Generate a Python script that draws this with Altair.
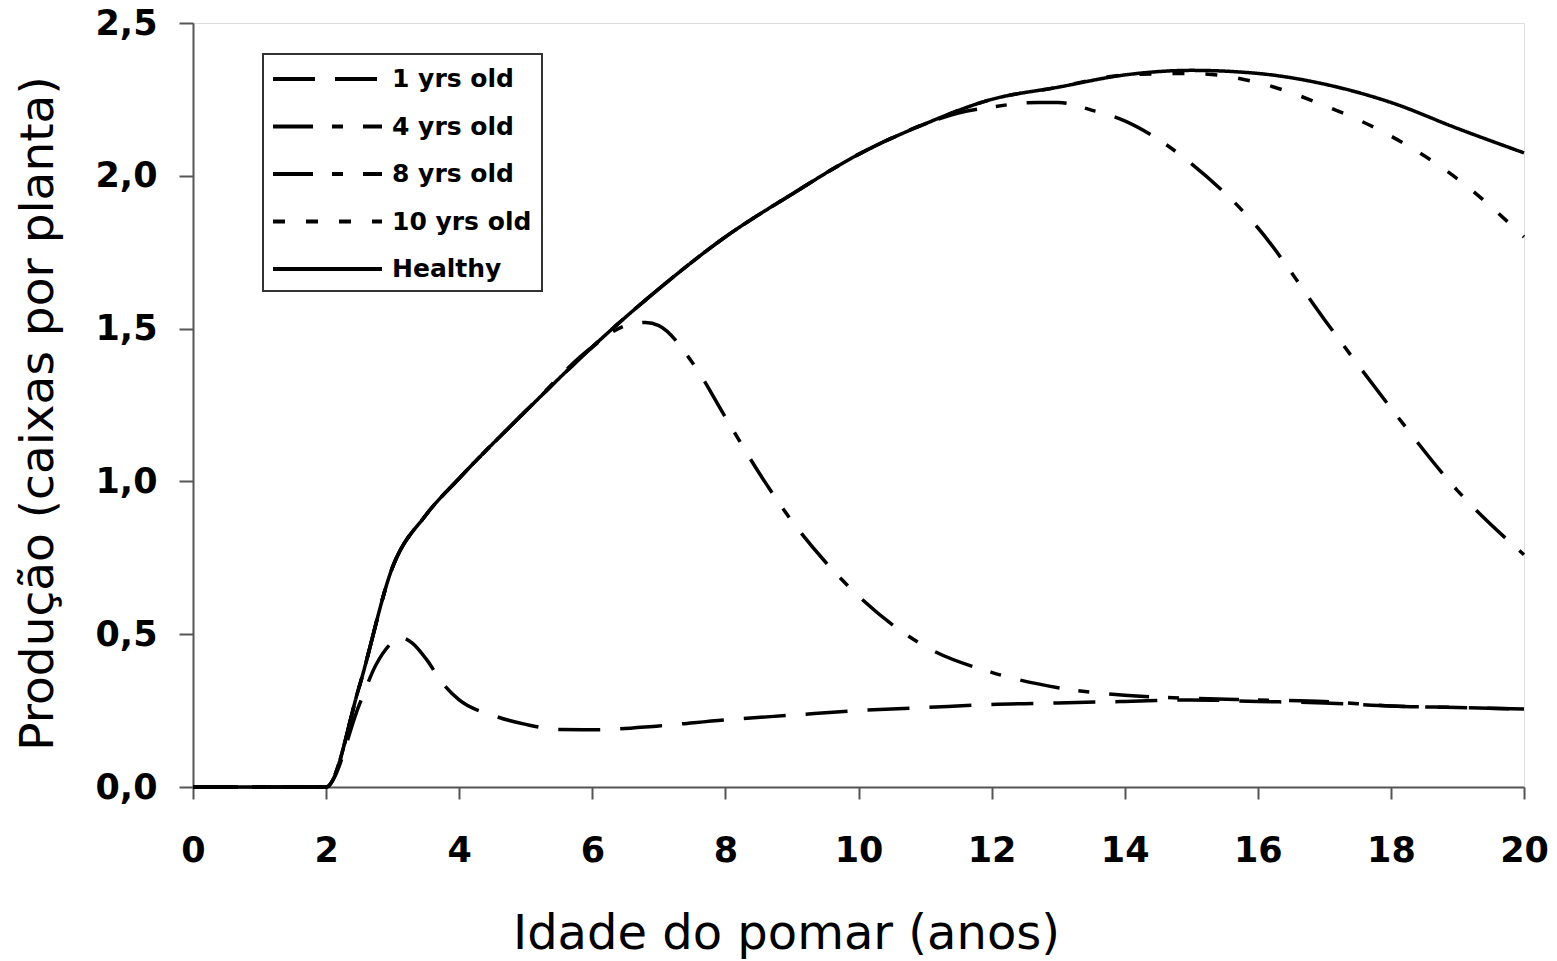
import altair as alt
import pandas as pd

# ---- data ----
series_names = ["1 yrs old", "4 yrs old", "8 yrs old", "10 yrs old", "Healthy"]

healthy_x = [0, 1, 2, 2.5, 3, 3.5, 4, 5, 6, 7, 8, 9, 10, 11, 12, 13, 14, 15, 16, 17, 18, 19, 20]
healthy_y = [0, 0, 0, 0.33, 0.72, 0.89, 1.01, 1.23, 1.44, 1.63, 1.80, 1.94, 2.07, 2.17, 2.25, 2.29,
             2.33, 2.345, 2.335, 2.30, 2.24, 2.155, 2.075]

y1_x = [0, 1, 2, 2.5, 2.75, 3, 3.1, 3.3, 3.5, 3.75, 4, 4.5, 5, 5.5, 6, 7, 8, 9, 10, 11, 12, 13, 14,
        15, 16, 17, 18, 19, 20]
y1_y = [0, 0, 0, 0.27, 0.40, 0.475, 0.49, 0.47, 0.42, 0.34, 0.285, 0.235, 0.205, 0.188, 0.187, 0.20,
        0.22, 0.235, 0.25, 0.26, 0.27, 0.275, 0.28, 0.285, 0.28, 0.275, 0.265, 0.26, 0.255]

y4_x = [0, 1, 2, 2.5, 3, 3.5, 4, 5, 6, 6.5, 6.8, 7, 7.5, 8, 8.5, 9, 9.5, 10, 11, 12, 13, 14, 15, 16,
        17, 18, 19, 20]
y4_y = [0, 0, 0, 0.33, 0.72, 0.89, 1.01, 1.23, 1.44, 1.51, 1.52, 1.51, 1.39, 1.21, 1.03, 0.87, 0.737,
        0.625, 0.46, 0.375, 0.325, 0.30, 0.29, 0.285, 0.28, 0.265, 0.26, 0.255]

y8_x = [0, 1, 2, 2.5, 3, 3.5, 4, 5, 6, 7, 8, 9, 10, 11, 11.5, 12, 12.7, 13, 13.5, 14, 14.5, 15, 16,
        17, 18, 19, 20]
y8_y = [0, 0, 0, 0.33, 0.72, 0.89, 1.01, 1.23, 1.44, 1.63, 1.80, 1.94, 2.07, 2.17, 2.205, 2.225, 2.24,
        2.24, 2.215, 2.18, 2.12, 2.04, 1.83, 1.53, 1.24, 0.97, 0.76]

y10_x = [0, 1, 2, 2.5, 3, 3.5, 4, 5, 6, 7, 8, 9, 10, 11, 12, 13, 14, 15, 16, 17, 18, 19, 20]
y10_y = [0, 0, 0, 0.33, 0.72, 0.89, 1.01, 1.23, 1.44, 1.63, 1.80, 1.94, 2.07, 2.17, 2.25, 2.29,
         2.33, 2.335, 2.305, 2.23, 2.13, 1.99, 1.80]

x_ticks = [0, 2, 4, 6, 8, 10, 12, 14, 16, 18, 20]
y_ticks = [0, 0.5, 1.0, 1.5, 2.0, 2.5]

dash_range = [[42, 20], [40, 19, 11, 20], [40, 19, 11, 20], [12, 21], [1, 0]]

# ---- build long table ----
rows = []
for name, xs, ys in [
    ("1 yrs old", y1_x, y1_y),
    ("4 yrs old", y4_x, y4_y),
    ("8 yrs old", y8_x, y8_y),
    ("10 yrs old", y10_x, y10_y),
    ("Healthy", healthy_x, healthy_y),
]:
    for xv, yv in zip(xs, ys):
        rows.append({"serie": name, "idade": xv, "prod": yv})
df = pd.DataFrame(rows)

lines = (
    alt.Chart(df)
    .mark_line(interpolate="monotone", strokeWidth=3.5, color="black")
    .encode(
        x=alt.X(
            "idade:Q",
            scale=alt.Scale(domain=[0, 20], nice=False),
            axis=alt.Axis(
                values=x_ticks,
                title="Idade do pomar (anos)",
                titleFont="DejaVu Sans",
                titleFontSize=48,
                titleFontWeight="normal",
                titleColor="black",
                titleX=593,
                titleY=161,
                titleAlign="center",
                titleBaseline="alphabetic",
                labelFont="DejaVu Sans",
                labelFontWeight="bold",
                labelFontSize=35,
                labelColor="black",
                labelPadding=34,
                labelFlush=False,
                tickSize=12,
                tickWidth=2,
                tickColor="#555555",
                domainColor="#555555",
                domainWidth=2,
                grid=False,
            ),
        ),
        y=alt.Y(
            "prod:Q",
            scale=alt.Scale(domain=[0, 2.5], nice=False),
            axis=alt.Axis(
                values=y_ticks,
                labelExpr="replace(format(datum.value, '.1f'), '.', ',')",
                title="Produção (caixas por planta)",
                titleFont="DejaVu Sans",
                titleFontSize=47,
                titleFontWeight="normal",
                titleColor="black",
                titleX=-141,
                titleY=390,
                titleAngle=270,
                titleAlign="center",
                titleBaseline="alphabetic",
                labelFont="DejaVu Sans",
                labelFontWeight="bold",
                labelFontSize=35,
                labelColor="black",
                labelPadding=22,
                labelFlush=False,
                tickSize=14,
                tickWidth=2,
                tickColor="#555555",
                domainColor="#555555",
                domainWidth=2,
                grid=False,
            ),
        ),
        strokeDash=alt.StrokeDash(
            "serie:N",
            scale=alt.Scale(domain=series_names, range=dash_range),
            sort=series_names,
            legend=None,
        ),
    )
)

# ---- hand-drawn legend box (layout only) ----
box_left, box_right, box_top, box_bottom = 70, 349, 31, 268
sym_left, sym_right, label_x = 80, 189, 199
row0, row_step = 56, 47.5

one = pd.DataFrame({"k": [0]})
legend_layers = [
    alt.Chart(one)
    .mark_rect(fill="white", stroke="#333333", strokeWidth=2)
    .encode(
        x=alt.value(box_left), x2=alt.value(box_right),
        y=alt.value(box_top), y2=alt.value(box_bottom),
    )
]
for i, name in enumerate(series_names):
    yy = row0 + i * row_step
    legend_layers.append(
        alt.Chart(one)
        .mark_rule(color="black", strokeWidth=4, strokeDash=dash_range[i])
        .encode(x=alt.value(sym_left), x2=alt.value(sym_right), y=alt.value(yy))
    )
    legend_layers.append(
        alt.Chart(one)
        .mark_text(
            text=name, align="left", baseline="middle", font="DejaVu Sans",
            fontSize=25, fontWeight="bold", color="black",
        )
        .encode(x=alt.value(label_x), y=alt.value(yy))
    )

chart = (
    alt.layer(lines, *legend_layers)
    .properties(
        width=1331,
        height=764,
        autosize=alt.AutoSizeParams(type="none"),
        padding={"left": 193, "top": 23, "right": 33, "bottom": 174},
    )
    .configure_view(stroke="#555555", strokeWidth=2)
    .configure(background="white")
)

chart.save("out.html", embed_options={"renderer": "svg", "actions": False})
